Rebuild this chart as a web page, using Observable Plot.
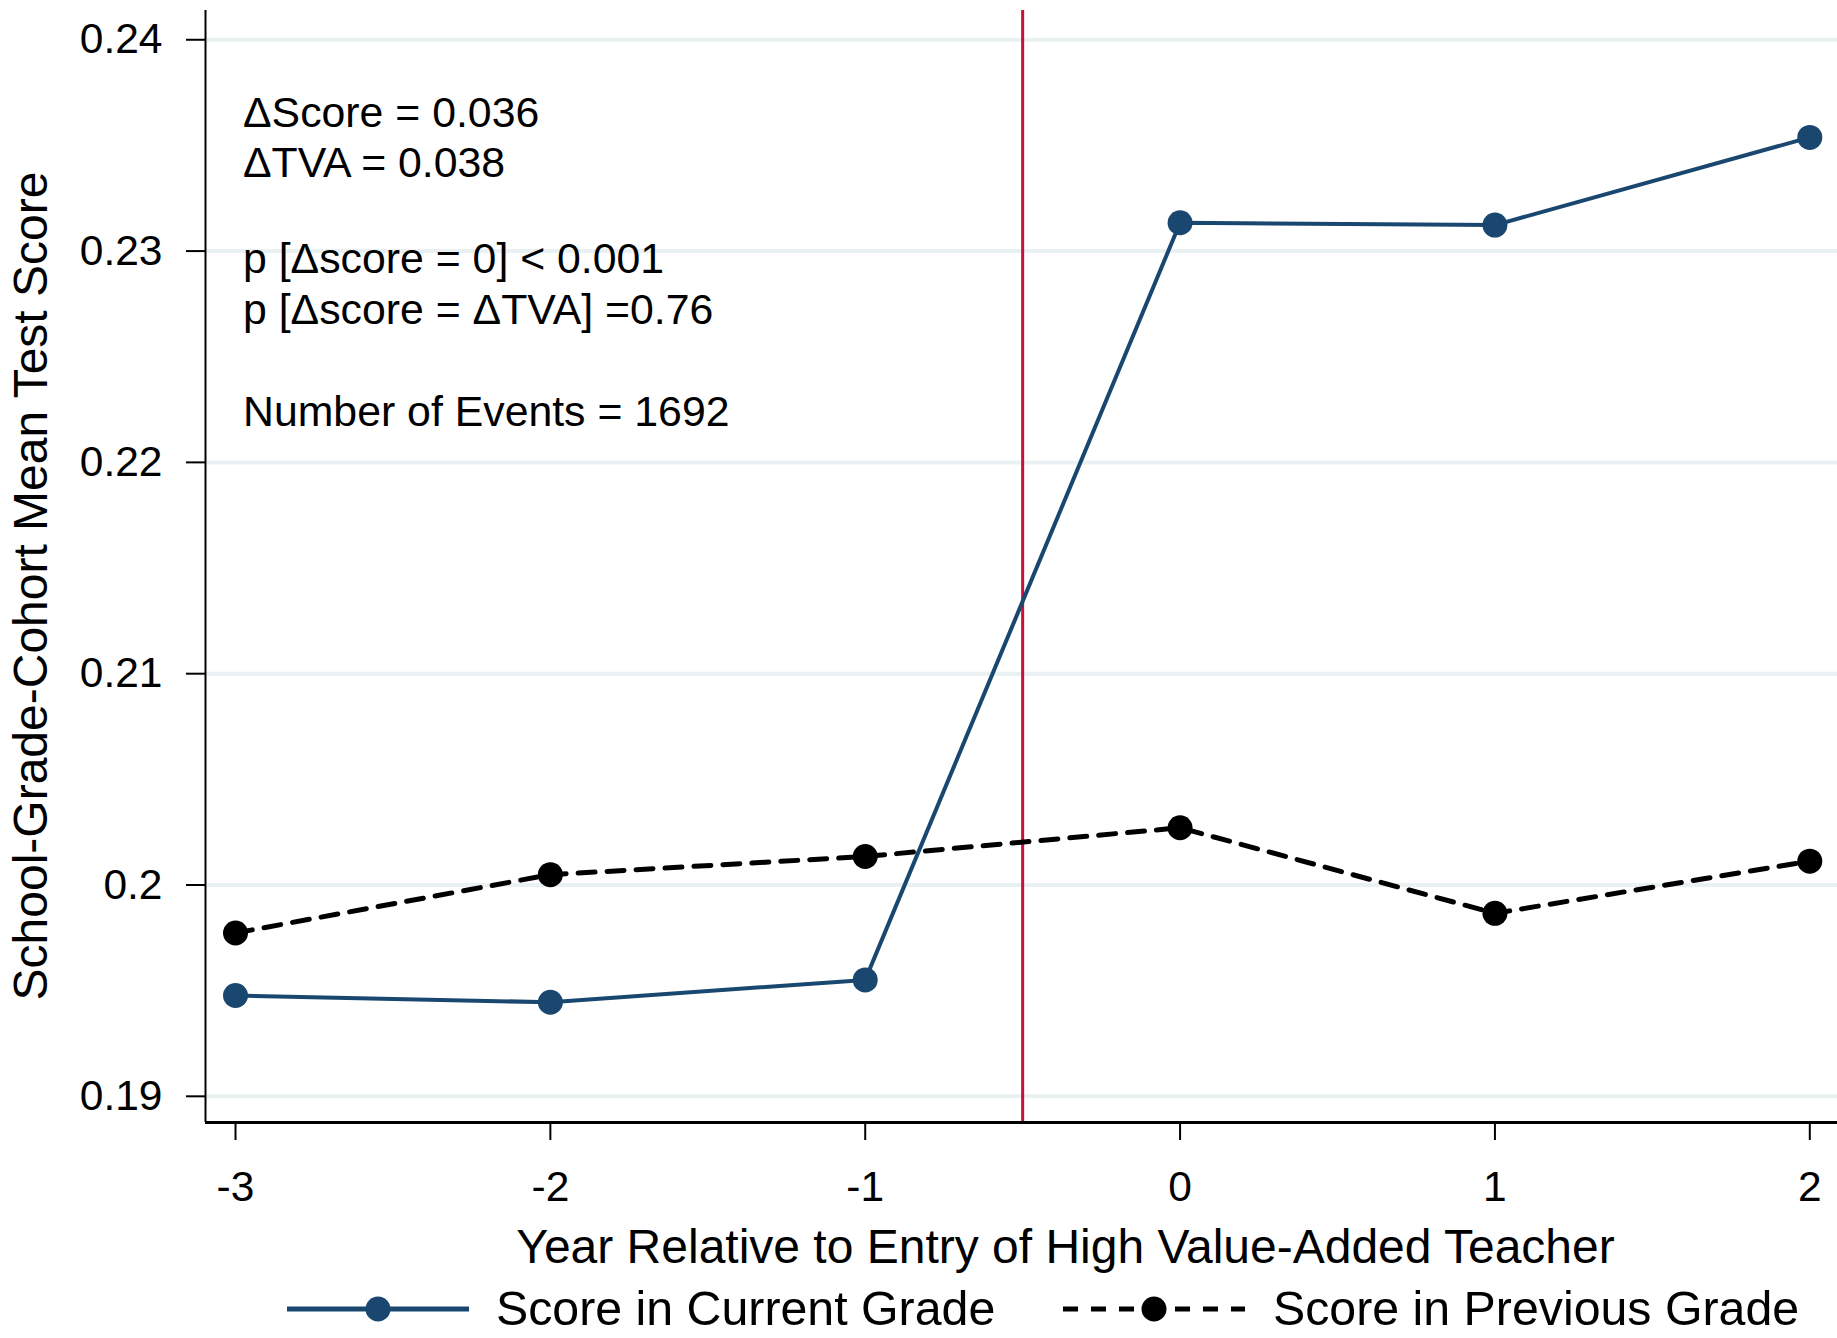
<!DOCTYPE html>
<html>
<head>
<meta charset="utf-8">
<script src="https://cdn.jsdelivr.net/npm/d3@7"></script>
<script src="https://cdn.jsdelivr.net/npm/@observablehq/plot@0.6"></script>
<style>
  html, body { margin: 0; padding: 0; background: #fff; overflow: hidden; }
  #chart svg { display: block; }
  #legend { display: block; }
</style>
</head>
<body>
<div id="chart"></div>
<div id="legend"></div>
<script>
// ---- Data ----
const years = [-3, -2, -1, 0, 1, 2];
const currentGrade = [0.19477, 0.19445, 0.19551, 0.23134, 0.23123, 0.23538];
const previousGrade = [0.19773, 0.20049, 0.20135, 0.20271, 0.19866, 0.20113];
const seriesNames = ["Score in Current Grade", "Score in Previous Grade"];
const xTicks = [-3, -2, -1, 0, 1, 2];
const xTickLabels = ["-3", "-2", "-1", "0", "1", "2"];
const yTicks = [0.19, 0.2, 0.21, 0.22, 0.23, 0.24];
const yTickLabels = ["0.19", "0.2", "0.21", "0.22", "0.23", "0.24"];
const eventYear = [-0.5];
const xTitle = "Year Relative to Entry of High Value-Added Teacher";
const yTitle = "School-Grade-Cohort Mean Test Score";
const annotationLines = [
  "\u0394Score = 0.036",
  "\u0394TVA = 0.038",
  "p [\u0394score = 0] < 0.001",
  "p [\u0394score = \u0394TVA] =0.76",
  "Number of Events = 1692"
];

// ---- Styling / layout ----
const W = 1837, H = 1280;
const navy = "#1a476f";
const red = "#c8103c";
const grid = "#e9f1f3";
const font = "'Liberation Sans', Arial, Helvetica, sans-serif";
const xDomain = [-3.0953, 2.088];
const yDomain = [0.188761, 0.241385];
const annotationDy = [102.6, 152.6, 248.6, 299.6, 401.6];

const current = years.map((x, i) => ({x, y: currentGrade[i]}));
const previous = years.map((x, i) => ({x, y: previousGrade[i]}));

const marks = [
  Plot.ruleY(yTicks, {stroke: grid, strokeWidth: 4}),
  Plot.ruleX(eventYear, {stroke: red, strokeWidth: 3}),
  Plot.line(previous, {x: "x", y: "y", stroke: "black", strokeWidth: 5, strokeDasharray: "17,12", curve: "linear"}),
  Plot.dot(previous, {x: "x", y: "y", r: 12.5, fill: "black", stroke: "none"}),
  Plot.line(current, {x: "x", y: "y", stroke: navy, strokeWidth: 4, curve: "linear"}),
  Plot.dot(current, {x: "x", y: "y", r: 12.5, fill: navy, stroke: "none"}),
  Plot.ruleX([xDomain[0]], {stroke: "black", strokeWidth: 2}),
  Plot.ruleY([yDomain[0]], {stroke: "black", strokeWidth: 3}),
  Plot.axisY({
    ticks: yTicks,
    tickFormat: d => yTickLabels[yTicks.indexOf(d)],
    tickSize: 19, tickPadding: 24, strokeWidth: 2,
    fontSize: 42.5, label: null
  }),
  Plot.axisX({
    ticks: xTicks,
    tickFormat: d => xTickLabels[xTicks.indexOf(d)],
    tickSize: 18, tickPadding: 30, strokeWidth: 2,
    fontSize: 42.5, label: null
  }),
  Plot.text([yTitle], {
    text: d => d, frameAnchor: "left", rotate: -90, lineAnchor: "middle",
    textAnchor: "middle", dx: -173.5, dy: 19.5, fontSize: 48, fill: "black"
  }),
  Plot.text([xTitle], {
    text: d => d, frameAnchor: "bottom", lineAnchor: "middle",
    textAnchor: "middle", dx: 44, dy: 125, fontSize: 48, fill: "black"
  })
];
annotationLines.forEach((t, i) => {
  marks.push(Plot.text([t], {
    text: d => d, frameAnchor: "top-left", textAnchor: "start", lineAnchor: "middle",
    dx: 37.5, dy: annotationDy[i], fontSize: 42.8, fill: "black"
  }));
});

const chart = Plot.plot({
  width: W,
  height: H,
  marginLeft: 205,
  marginRight: 0,
  marginTop: 10,
  marginBottom: H - 1122,
  style: {fontFamily: font, color: "black", background: "white", overflow: "visible"},
  x: {domain: xDomain, axis: null},
  y: {domain: yDomain, axis: null},
  marks
});
document.getElementById("chart").appendChild(chart);

// ---- Legend (below the SVG) ----
const LH = 58, cy = 29;
const leg = d3.select("#legend").append("svg")
  .attr("width", W).attr("height", LH)
  .style("font-family", font);
const items = [
  {name: seriesNames[0], color: navy, dash: null, x0: 287, x1: 469, tx: 496, sw: 5},
  {name: seriesNames[1], color: "black", dash: "15,13", x0: 1063, x1: 1245, tx: 1273, sw: 5}
];
items.forEach(it => {
  leg.append("line")
    .attr("x1", it.x0).attr("x2", it.x1).attr("y1", cy).attr("y2", cy)
    .attr("stroke", it.color).attr("stroke-width", it.sw)
    .attr("stroke-dasharray", it.dash);
  leg.append("circle")
    .attr("cx", (it.x0 + it.x1) / 2).attr("cy", cy).attr("r", 12.5)
    .attr("fill", it.color);
  leg.append("text")
    .attr("x", it.tx).attr("y", 45)
    .attr("font-size", 48.3).attr("fill", "black")
    .text(it.name);
});
</script>
</body>
</html>
